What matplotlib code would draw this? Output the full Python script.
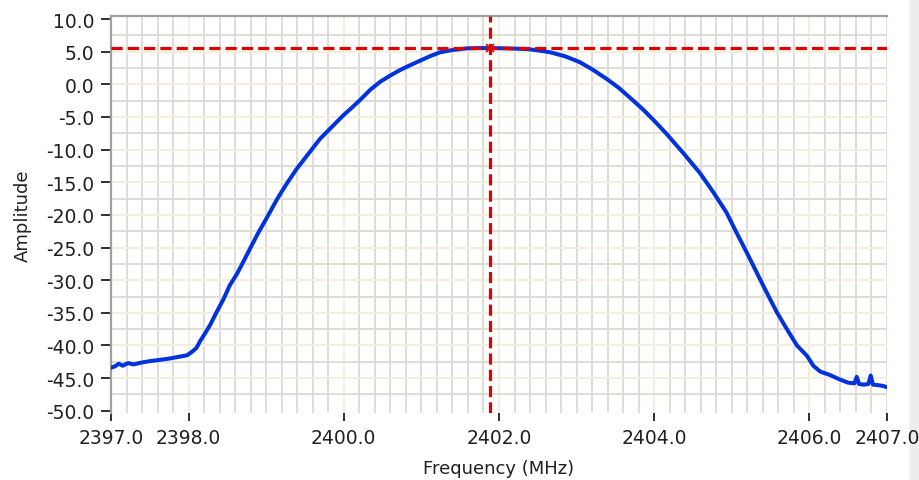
import numpy as np
import matplotlib
matplotlib.use("Agg")
import matplotlib.pyplot as plt
from matplotlib.patches import Rectangle

# Spectrum trace (MHz, amplitude)
freq = [2397.00, 2397.05, 2397.10, 2397.15, 2397.22, 2397.29, 2397.40, 2397.50,
        2397.63, 2397.75, 2397.89, 2397.98, 2398.04, 2398.10, 2398.15, 2398.23,
        2398.28, 2398.36, 2398.45, 2398.53, 2398.62, 2398.70, 2398.79, 2398.90,
        2399.01, 2399.14, 2399.26, 2399.39, 2399.54, 2399.69, 2399.84, 2399.99,
        2400.12, 2400.21, 2400.34, 2400.47, 2400.60, 2400.72, 2400.85, 2400.98,
        2401.11, 2401.24, 2401.40, 2401.58, 2401.75, 2401.88, 2402.10, 2402.36,
        2402.50, 2402.66, 2402.85, 2403.04, 2403.20, 2403.39, 2403.55, 2403.73,
        2403.86, 2404.01, 2404.16, 2404.38, 2404.59, 2404.76, 2404.93, 2405.06,
        2405.19, 2405.32, 2405.45, 2405.58, 2405.71, 2405.84, 2405.97, 2406.05,
        2406.14, 2406.26, 2406.39, 2406.50, 2406.58, 2406.61, 2406.64, 2406.70,
        2406.76, 2406.79, 2406.82, 2406.90, 2406.95, 2407.00]
amp = [-43.4, -43.2, -42.8, -43.1, -42.7, -42.9, -42.6, -42.4,
       -42.2, -42.0, -41.7, -41.5, -41.0, -40.4, -39.3, -37.8,
       -36.8, -34.9, -32.9, -30.8, -29.1, -27.3, -25.2, -22.7,
       -20.4, -17.6, -15.3, -13.0, -10.7, -8.4, -6.6, -4.8,
       -3.4, -2.4, -0.85, 0.4, 1.35, 2.15, 2.9, 3.6,
       4.3, 4.9, 5.25, 5.5, 5.55, 5.55, 5.5, 5.4,
       5.2, 4.9, 4.3, 3.4, 2.3, 0.8, -0.6, -2.5,
       -3.9, -5.7, -7.6, -10.6, -13.6, -16.5, -19.6, -22.7,
       -25.7, -28.8, -31.9, -34.9, -37.5, -40.0, -41.6, -43.1,
       -44.0, -44.5, -45.2, -45.7, -45.8, -44.8, -45.9, -46.0,
       -45.9, -44.6, -46.0, -46.1, -46.2, -46.4]

cursor_x = 2401.88
cursor_y = 5.56

xticks = [2397.0, 2398.0, 2400.0, 2402.0, 2404.0, 2406.0, 2407.0]
yticks = [-50.0, -45.0, -40.0, -35.0, -30.0, -25.0, -20.0, -15.0, -10.0,
          -5.0, 0.0, 5.0, 10.0]

grey = "#e0ddd6"
cream = "#f2efdf"

fig = plt.figure(figsize=(9.19, 4.81), dpi=100)
fig.patch.set_facecolor("white")
fig.patches.append(Rectangle((0.99, 0), 0.01, 1, transform=fig.transFigure,
                             color="#ededed", zorder=-5))
ax = fig.add_axes([111 / 919, 1 - 414 / 481, 776 / 919, 397 / 481])

ax.set_xlim(2397.0, 2407.0)
ax.set_ylim(-50.34, 10.46)

# grid: fine grey lines every 0.2 MHz / 2.5 units, cream on the labelled values
for gx in np.arange(2397.2, 2407.0, 0.2):
    even = abs(gx - round(gx)) < 1e-6 and round(gx) % 2 == 0
    ax.axvline(gx, color=cream if even else grey, lw=1.4, zorder=1)
for gy in np.arange(-47.5, 10.0, 2.5):
    ax.axhline(gy, color=cream if abs(gy % 5) < 1e-6 else grey, lw=1.4, zorder=1)

ax.plot(freq, amp, color="#0033dd", lw=2.9, zorder=3, solid_joinstyle="round")

ax.axhline(cursor_y, color="#e00000", lw=2.3, dashes=(3.5, 1.6), zorder=4)
ax.axvline(cursor_x, color="#e00000", lw=2.3, dashes=(3.5, 1.6), zorder=4)
ax.plot([cursor_x], [cursor_y], marker="x", color="#e00000", ms=6, mew=1.2, zorder=5)

for side in ["right", "bottom"]:
    ax.spines[side].set_visible(False)
for side in ["left", "top"]:
    ax.spines[side].set_color("#a0a0a0")
    ax.spines[side].set_linewidth(1.6)

ax.set_xticks(xticks)
ax.set_xticklabels([f"{v:.1f}" for v in xticks])
ax.set_yticks(yticks)
ax.set_yticklabels([f"{v:.1f}" for v in yticks])
ax.tick_params(axis="y", length=7.2, width=1.3, pad=5, colors="#202020", labelsize=13.5)
ax.tick_params(axis="x", length=6, width=1.3, pad=5, colors="#202020", labelsize=13.5)

ax.set_xlabel("Frequency (MHz)", fontsize=13, color="#202020", labelpad=8.5)
ax.set_ylabel("Amplitude", fontsize=13, color="#202020", labelpad=10)

fig.savefig("out.png", dpi=100)
